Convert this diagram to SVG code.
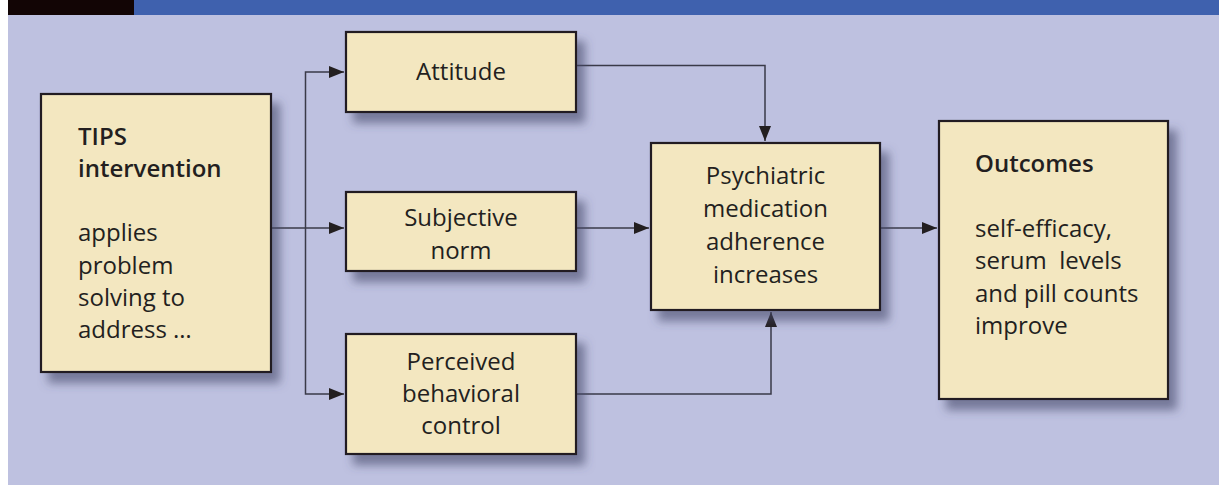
<svg xmlns="http://www.w3.org/2000/svg" width="1219" height="485" viewBox="0 0 1219 485">
  <style>
    .box { fill: #F3E7C0; stroke: #231F20; stroke-width: 2.2; filter: url(#shadow); }
    .t { font-family: "Open Sans", "Liberation Sans", sans-serif; font-size: 24px; fill: #231F20; }
    .c { text-anchor: middle; }
    .b { font-weight: 600; }
    .conn { fill: none; stroke: #3A3A48; stroke-width: 1.5; }
  </style>
  <defs>
    <filter id="shadow" x="-20%" y="-20%" width="150%" height="150%">
      <feDropShadow dx="8" dy="10" stdDeviation="5" flood-color="#45476A" flood-opacity="0.6"/>
    </filter>
    <marker id="arrow" viewBox="0 0 15 12" refX="15" refY="6" markerWidth="15" markerHeight="12" markerUnits="userSpaceOnUse" orient="auto">
      <path d="M0,0 L15,6 L0,12 Z" fill="#231F20"/>
    </marker>
  </defs>

  <rect x="0" y="0" width="1219" height="485" fill="#FFFFFF"/>
  <rect x="8" y="15" width="1211" height="470" fill="#BEC1E0"/>
  <rect x="134" y="0" width="1085" height="15" fill="#3F61AE"/>
  <rect x="8" y="0" width="126" height="15" fill="#120505"/>

  <g id="connectors">
    <path class="conn" d="M271,228 L344,228" marker-end="url(#arrow)"/>
    <path class="conn" d="M305.5,228 L305.5,72 L344,72" marker-end="url(#arrow)"/>
    <path class="conn" d="M305.5,228 L305.5,394 L344,394" marker-end="url(#arrow)"/>
    <path class="conn" d="M576,65.5 L765,65.5 L765,141" marker-end="url(#arrow)"/>
    <path class="conn" d="M576,228 L649,228" marker-end="url(#arrow)"/>
    <path class="conn" d="M576,394 L771,394 L771,312" marker-end="url(#arrow)"/>
    <path class="conn" d="M880,228 L937,228" marker-end="url(#arrow)"/>
  </g>

  <g id="tips">
    <rect class="box" x="41" y="94" width="230" height="278"/>
    <text class="t b" x="78" y="144.5">TIPS</text>
    <text class="t b" x="78" y="176.8">intervention</text>
    <text class="t" x="78" y="241.4">applies</text>
    <text class="t" x="78" y="273.7">problem</text>
    <text class="t" x="78" y="306">solving to</text>
    <text class="t" x="78" y="338.3">address …</text>
  </g>

  <g id="attitude">
    <rect class="box" x="346" y="32" width="230" height="80"/>
    <text class="t c" x="461" y="79.5">Attitude</text>
  </g>

  <g id="subjective-norm">
    <rect class="box" x="346" y="192" width="230" height="79"/>
    <text class="t c" x="461" y="225.7">Subjective</text>
    <text class="t c" x="461" y="259">norm</text>
  </g>

  <g id="perceived-control">
    <rect class="box" x="346" y="334" width="230" height="120"/>
    <text class="t c" x="461" y="370">Perceived</text>
    <text class="t c" x="461" y="402.3">behavioral</text>
    <text class="t c" x="461" y="434.3">control</text>
  </g>

  <g id="adherence">
    <rect class="box" x="651" y="143" width="229" height="167"/>
    <text class="t c" x="765.5" y="184.3">Psychiatric</text>
    <text class="t c" x="765.5" y="217.3">medication</text>
    <text class="t c" x="765.5" y="250">adherence</text>
    <text class="t c" x="765.5" y="282.7">increases</text>
  </g>

  <g id="outcomes">
    <rect class="box" x="939" y="121" width="229" height="278"/>
    <text class="t b" x="975" y="171.7">Outcomes</text>
    <text class="t" x="975" y="236.7">self-efficacy,</text>
    <text class="t" x="975" y="269.3" xml:space="preserve">serum  levels</text>
    <text class="t" x="975" y="301.7">and pill counts</text>
    <text class="t" x="975" y="334.3">improve</text>
  </g>
</svg>
